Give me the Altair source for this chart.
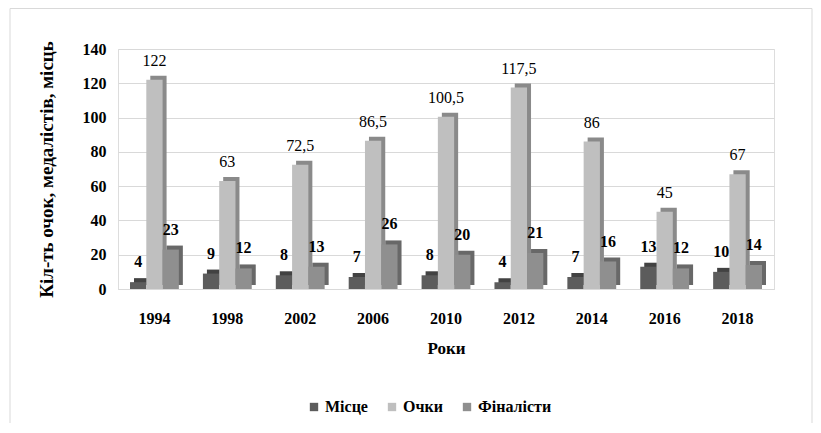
import altair as alt
import pandas as pd

years = ["1994", "1998", "2002", "2006", "2010", "2012", "2014", "2016", "2018"]
series = ["Місце", "Очки", "Фіналісти"]
mistse = [4, 9, 8, 7, 8, 4, 7, 13, 10]
ochky = [122, 63, 72.5, 86.5, 100.5, 117.5, 86, 45, 67]
finalisty = [23, 12, 13, 26, 20, 21, 16, 12, 14]
colors = ["#5c5c5c", "#bfbfbf", "#8f8f8f"]
side_colors = ["#424242", "#8a8a8a", "#686868"]

rows = []
for i, y in enumerate(years):
    for s, vals in zip(series, [mistse, ochky, finalisty]):
        v = vals[i]
        lab = (f"{v:g}").replace(".", ",")
        rows.append({"year": y, "series": s, "value": v, "label": lab})
df = pd.DataFrame(rows)

FONT = "Liberation Serif"
W, H = 656, 240
PI = 0.33
STEP = W / 9
BW = STEP * (1 - PI)

xenc = alt.X("year:N", sort=years, title="Роки",
             scale=alt.Scale(paddingInner=PI, paddingOuter=PI / 2),
             axis=alt.Axis(labelAngle=0, labelFont=FONT, labelFontSize=16, labelFontWeight="bold",
                           labelColor="#000", labelPadding=21, ticks=False, domain=True,
                           domainColor="#d9d9d9", titleFont=FONT, titleFontSize=17,
                           titleFontWeight="bold", titleColor="#000", titlePadding=14))
yenc = alt.Y("value:Q", scale=alt.Scale(domain=[0, 140]),
             title="Кіл-ть очок, медалістів, місць",
             axis=alt.Axis(values=[0, 20, 40, 60, 80, 100, 120, 140], labelFont=FONT, labelFontSize=16,
                           labelFontWeight="bold", labelColor="#000", labelPadding=12, ticks=False,
                           labelOverlap=False, domain=False, grid=True, gridColor="#d9d9d9",
                           titleFont=FONT, titleFontSize=19, titleFontWeight="bold",
                           titleColor="#000", titlePadding=26))

base = alt.Chart(df)

depth = base.mark_bar(yOffset=-4, clip=False).encode(
    x=xenc,
    xOffset=alt.XOffset("series:N", sort=series, scale=alt.Scale(domain=series, range=[4, BW + 4])),
    y=yenc,
    color=alt.Color("series:N", sort=series, scale=alt.Scale(domain=series, range=side_colors), legend=None),
)

xoff = alt.XOffset("series:N", sort=series, scale=alt.Scale(domain=series, range=[0, BW]))

bars = base.mark_bar().encode(
    x=xenc, xOffset=xoff, y=yenc,
    color=alt.Color("series:N", sort=series, scale=alt.Scale(domain=series, range=colors),
                    legend=alt.Legend(title=None, orient="none", direction="horizontal",
                                      legendX=188, legendY=350, symbolType="square",
                                      symbolSize=70, symbolStrokeWidth=0, labelFont=FONT,
                                      labelFontSize=16, labelFontWeight="bold", labelColor="#000",
                                      columnPadding=16, labelOffset=3)),
)

txt_bold = base.transform_filter(alt.datum.series != "Очки").mark_text(
    font=FONT, fontSize=16, fontWeight="bold", dy=-20, color="#000").encode(
    x=xenc, xOffset=xoff, y=yenc, text="label:N")

txt_norm = base.transform_filter(alt.datum.series == "Очки").mark_text(
    font=FONT, fontSize=16, dy=-19, color="#000").encode(
    x=xenc, xOffset=xoff, y=yenc, text="label:N")

frame = alt.Chart(pd.DataFrame({"a": [0]})).mark_rect(
    fill=None, stroke="#d9d9d9", strokeWidth=1, clip=False).encode(
    x=alt.value(-108), x2=alt.value(694), y=alt.value(-40.5), y2=alt.value(390))

chart = alt.layer(frame, depth, bars, txt_bold, txt_norm).resolve_scale(
    color="independent", xOffset="independent"
).properties(
    width=W, height=H,
    autosize=alt.AutoSizeParams(type="none"),
    padding={"left": 110, "top": 41, "right": 39, "bottom": 134},
).configure_view(stroke=None).configure(background="white", font=FONT)

chart.save("out.html", embed_options={"renderer": "svg", "actions": False})
